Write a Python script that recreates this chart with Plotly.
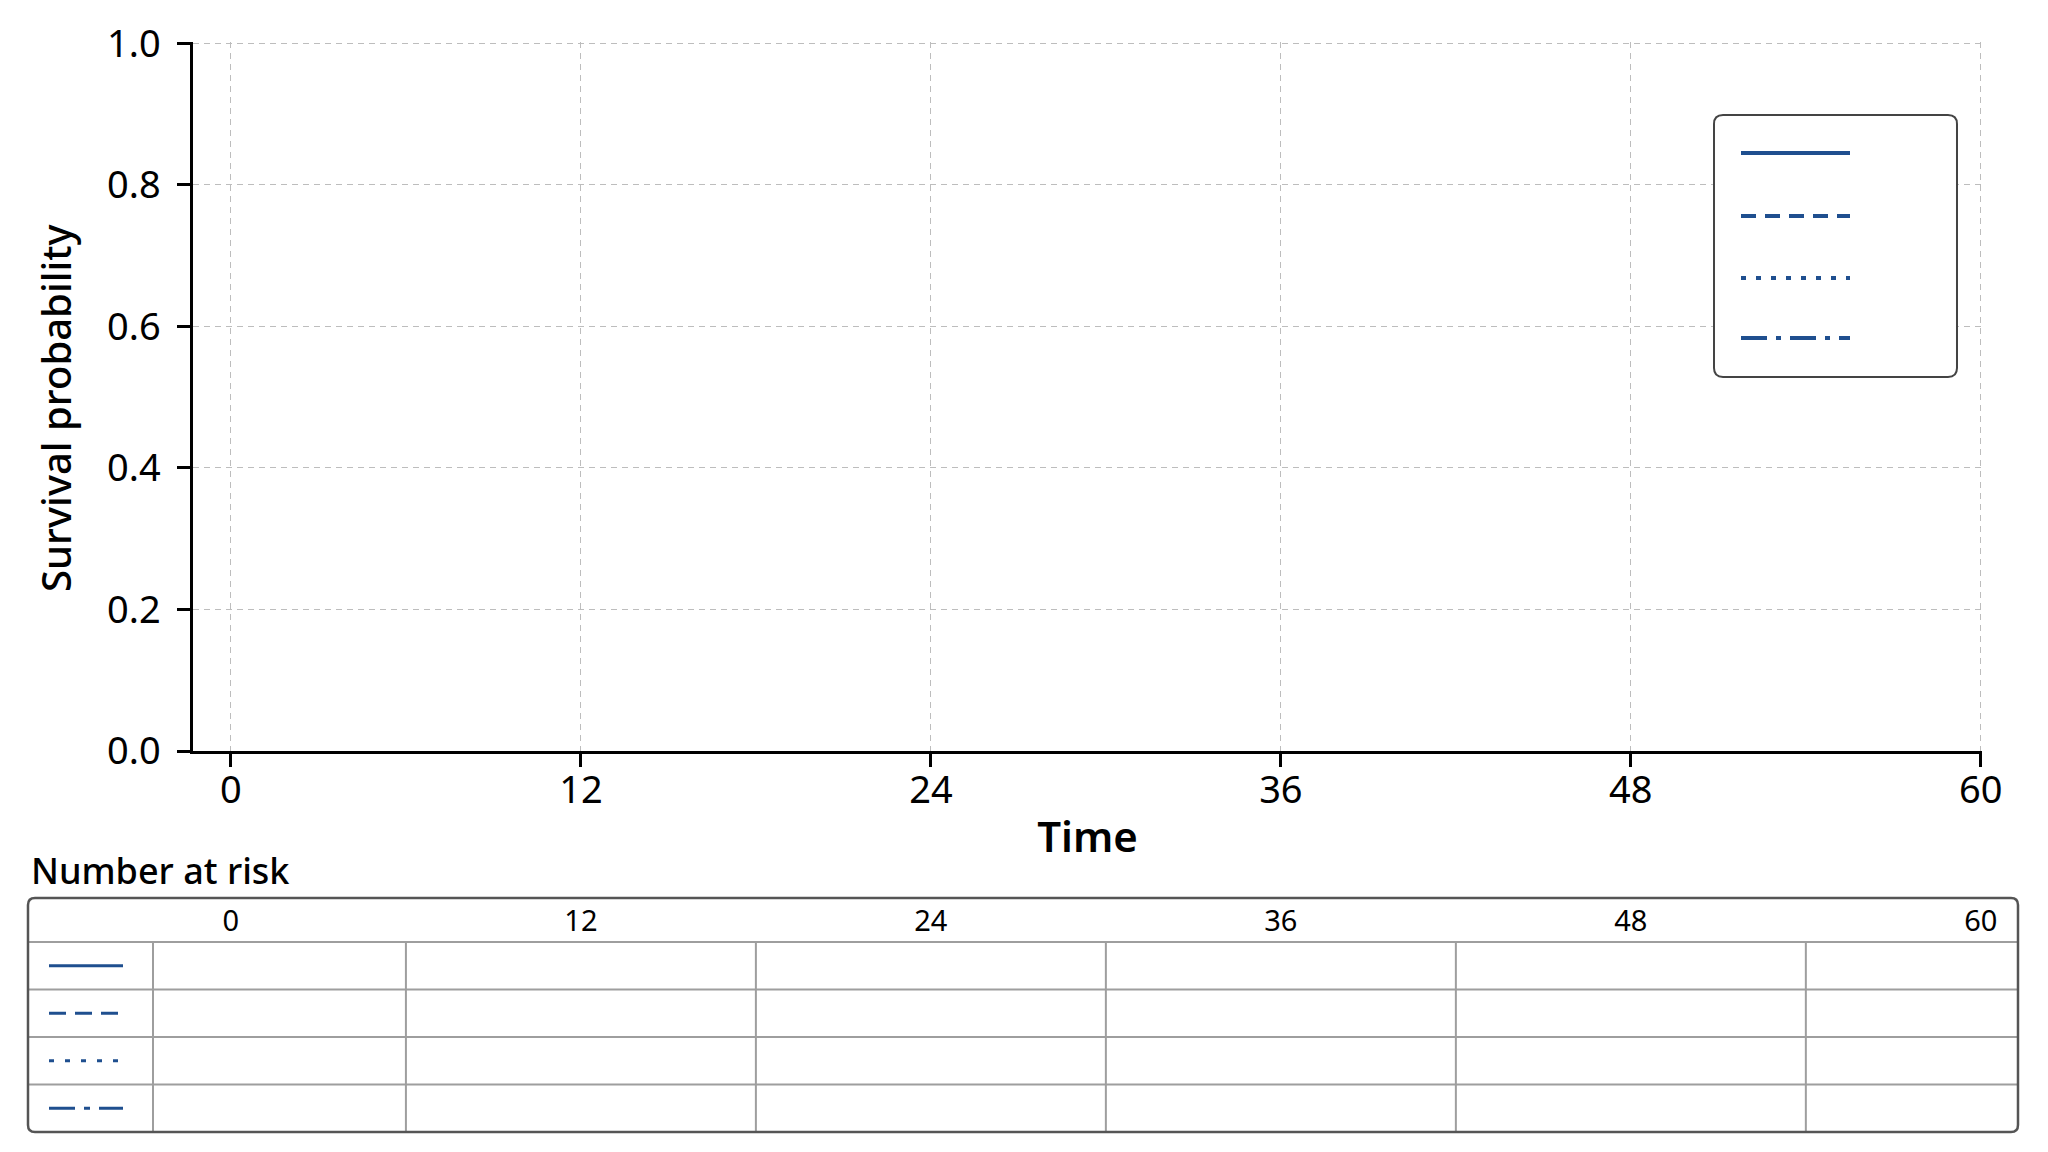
import plotly.graph_objects as go

# Survival plot with a number-at-risk table underneath (no curves in the source)
time_ticks = [0, 12, 24, 36, 48, 60]
prob_ticks = [0.0, 0.2, 0.4, 0.6, 0.8, 1.0]
group_dashes = ["solid", "dash", "dot", "dashdot"]
group_names = ["", "", "", ""]
# the source chart shows no survival steps, so the groups are empty
group_times = [[], [], [], []]
group_surv = [[], [], [], []]
# number at risk cells are blank in the source
at_risk = [
    ["", "", "", "", "", ""],
    ["", "", "", "", "", ""],
    ["", "", "", "", "", ""],
    ["", "", "", "", "", ""],
]

# the page body keeps its 8px margin, so the figure is a bit smaller
# than the window and every pixel position below is shifted by OFF
OFF = 8
W, H = 2048 - 2 * OFF, 1152 - 2 * OFF
BLUE = "#1f4f8f"
FONT = "Noto Sans"

legend_dash = {"solid": "solid", "dash": "15px,9px", "dot": "5px,10px", "dashdot": "26px,9px,5px,9px"}
table_dash = {"solid": "solid", "dash": "17px,9px", "dot": "5px,11px", "dashdot": "26px,9px,6px,9px"}


def px(x):
    return (x - OFF) / W


def py(y):
    return 1 - (y - OFF) / H


def rounded_box(x0, y0, x1, y1, r):
    pts = [
        ("M", x0 + r, y0), ("L", x1 - r, y0), ("Q", x1, y0, x1, y0 + r),
        ("L", x1, y1 - r), ("Q", x1, y1, x1 - r, y1), ("L", x0 + r, y1),
        ("Q", x0, y1, x0, y1 - r), ("L", x0, y0 + r), ("Q", x0, y0, x0 + r, y0),
    ]
    out = []
    for p in pts:
        cmd, vals = p[0], p[1:]
        coords = []
        for i in range(0, len(vals), 2):
            coords.append(f"{px(vals[i]):.5f},{py(vals[i + 1]):.5f}")
        out.append(cmd + " ".join(coords))
    return " ".join(out) + " Z"


# main plot area in window pixels
plot_l, plot_r, plot_t, plot_b = 193, 1982, 42, 751
x_min = -1.3
x_max = time_ticks[-1] + 0.04  # tiny overhang so the edge gridlines still draw
y_max = prob_ticks[-1] + 0.002
scale = (plot_r - plot_l) / (x_max - x_min)

# table area in window pixels
tab_l, tab_r, tab_t, tab_b = 28, 2018, 898, 1132
head_h = 44
row_h = (tab_b - tab_t - head_h) / len(group_dashes)
x2_min = x_min - (plot_l - tab_l) / scale
x2_max = x_max + (tab_r - plot_r) / scale
y2_top = -head_h / row_h

fig = go.Figure()

for t, s, d, n in zip(group_times, group_surv, group_dashes, group_names):
    fig.add_trace(go.Scatter(
        x=t, y=s, name=n, mode="lines",
        line=dict(color=BLUE, width=3, dash=d, shape="hv"),
        showlegend=False,
    ))

# table header and (blank) counts
fig.add_trace(go.Scatter(
    x=time_ticks, y=[y2_top / 2 + 0.08] * len(time_ticks),
    text=[str(t) for t in time_ticks], mode="text",
    textfont=dict(family=FONT, size=29, color="black"),
    xaxis="x2", yaxis="y2", showlegend=False, hoverinfo="skip",
))
for i, row in enumerate(at_risk):
    fig.add_trace(go.Scatter(
        x=time_ticks, y=[i + 0.5] * len(time_ticks), text=row, mode="text",
        textfont=dict(family=FONT, size=29, color="black"),
        xaxis="x2", yaxis="y2", showlegend=False, hoverinfo="skip",
    ))

shapes = []

# legend box
shapes.append(dict(type="path", path=rounded_box(1714, 115, 1957, 377, 9),
                   xref="paper", yref="paper", line=dict(color="#444444", width=2),
                   fillcolor="white", layer="above"))
legend_rows = [153, 216, 278, 338]
for d, yy in zip(group_dashes, legend_rows):
    shapes.append(dict(type="line", xref="paper", yref="paper",
                       x0=px(1741), x1=px(1850), y0=py(yy), y1=py(yy),
                       line=dict(color=BLUE, width=4, dash=legend_dash[d]), layer="above"))

# table grid
grid_col = "#9e9e9e"
for i in range(len(group_dashes)):
    shapes.append(dict(type="line", xref="paper", yref="y2",
                       x0=px(tab_l), x1=px(tab_r), y0=i, y1=i,
                       line=dict(color=grid_col, width=2)))
shapes.append(dict(type="line", xref="paper", yref="y2",
                   x0=px(153), x1=px(153), y0=0, y1=len(group_dashes),
                   line=dict(color=grid_col, width=2)))
for a, b in zip(time_ticks[:-1], time_ticks[1:]):
    mid = (a + b) / 2
    shapes.append(dict(type="line", xref="x2", yref="y2",
                       x0=mid, x1=mid, y0=0, y1=len(group_dashes),
                       line=dict(color=grid_col, width=2)))
for i, d in enumerate(group_dashes):
    shapes.append(dict(type="line", xref="paper", yref="y2",
                       x0=px(49), x1=px(123), y0=i + 0.5, y1=i + 0.5,
                       line=dict(color=BLUE, width=3, dash=table_dash[d])))
shapes.append(dict(type="path", path=rounded_box(tab_l, tab_t, tab_r, tab_b, 7),
                   xref="paper", yref="paper", line=dict(color="#555555", width=2.5)))

axis_common = dict(
    showline=True, linecolor="black", linewidth=2.5, automargin=False,
    ticks="outside", ticklen=13, tickwidth=2.5, tickcolor="black",
    showgrid=True, gridcolor="#bdbdbd", gridwidth=1.3, griddash="6px,5px",
    zeroline=False, tickfont=dict(family=FONT, size=38, color="black"),
)

fig.update_layout(
    width=W, height=H, autosize=False,
    margin=dict(l=0, r=0, t=0, b=0),
    paper_bgcolor="white", plot_bgcolor="white",
    font=dict(family=FONT, color="black"),
    showlegend=False,
    xaxis=dict(
        domain=[px(plot_l), px(plot_r)], range=[x_min, x_max],
        tickvals=time_ticks, anchor="y", ticklabelstandoff=-9,
        title=dict(text="Time", font=dict(family=FONT, size=42, weight=600), standoff=10),
        **axis_common,
    ),
    yaxis=dict(
        domain=[py(plot_b), py(plot_t)], range=[0, y_max],
        tickvals=prob_ticks, tickformat=".1f", anchor="x", ticklabelstandoff=9,
        **axis_common,
    ),
    xaxis2=dict(domain=[px(tab_l), px(tab_r)], range=[x2_min, x2_max],
                visible=False, anchor="y2", fixedrange=True, automargin=False),
    yaxis2=dict(domain=[py(tab_b), py(tab_t)], range=[len(group_dashes), y2_top],
                visible=False, anchor="x2", fixedrange=True, automargin=False),
    shapes=shapes,
    annotations=[
        # y title sits a little below the plot centre in the source
        dict(text="Survival probability", xref="paper", yref="paper",
             x=px(55), y=py(408), xanchor="center", yanchor="middle", textangle=-90,
             showarrow=False,
             font=dict(family=FONT, size=40, weight=500, color="black")),
        dict(text="Number at risk", xref="paper", yref="paper",
             x=px(29), y=py(870), xanchor="left", yanchor="middle",
             showarrow=False,
             font=dict(family=FONT, size=36, weight=500, color="black")),
    ],
)

fig.write_html("out.html")
